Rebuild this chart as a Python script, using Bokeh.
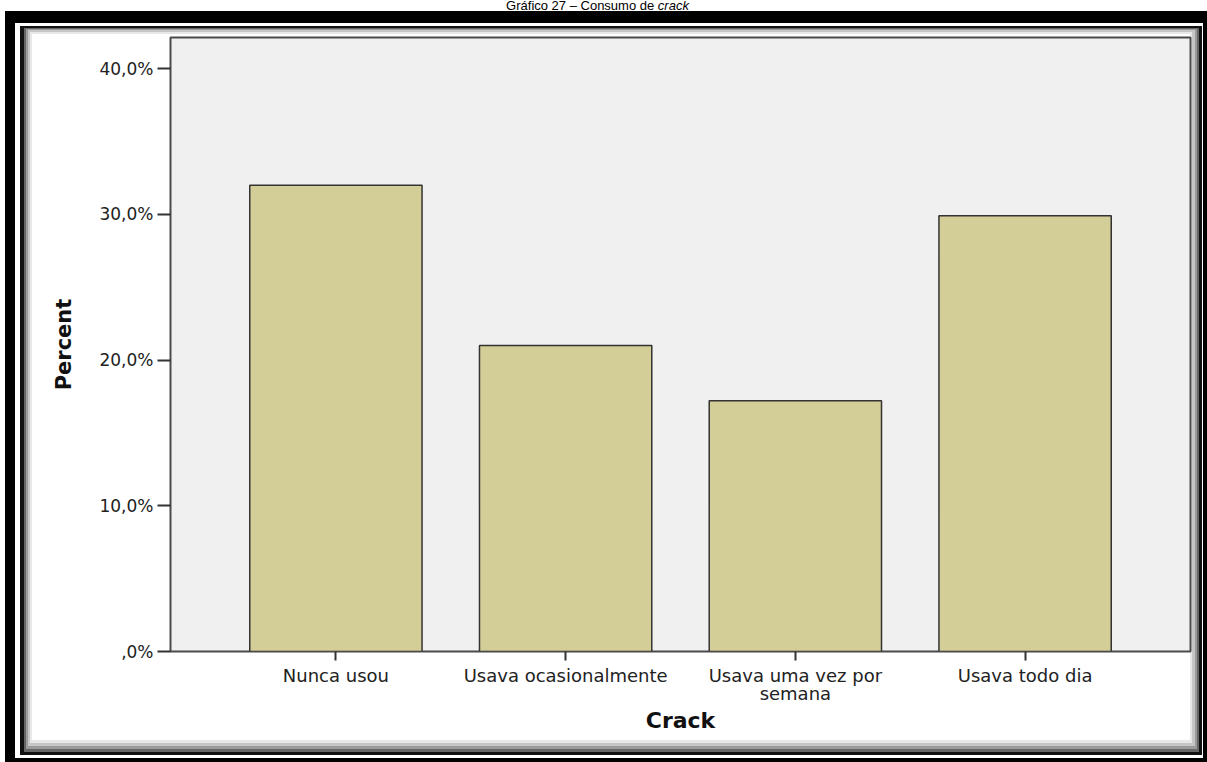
from bokeh.plotting import figure
from bokeh.layouts import column
from bokeh.models import FactorRange, Range1d, FixedTicker, Div
from bokeh.embed import file_html
from bokeh.resources import INLINE

# ---- data ----
categories = ["Nunca usou", "Usava ocasionalmente", "Usava uma vez por\nsemana", "Usava todo dia"]
percent = [32.0, 21.0, 17.2, 29.9]
y_ticks = [0, 10, 20, 30, 40]
y_tick_labels = [",0%", "10,0%", "20,0%", "30,0%", "40,0%"]
title_main = "Gráfico 27 – Consumo de"
title_italic = "crack"
x_label = "Crack"
y_label = "Percent"

W, H = 1207, 762
TOP = 11                               # height of the title strip above the frame box
FL, FR, FT, FB = 170, 1190, 37, 651   # frame edges in page pixels


def rect(l, t, r, b, color):
    return f"linear-gradient({color},{color}) {l}px {t}px / {r - l}px {b - t}px no-repeat"


layers = [
    rect(32, 34, 1190, 740, "#ffffff"),
    rect(30, 32, 1192, 743, "#e8e8e8"),
    rect(28, 30, 1195, 746, "#c6c6c6"),
    rect(26, 29, 1197, 749, "#9a9a9a"),
    rect(24, 28, 1199, 752, "#666666"),
    rect(20, 26, 1202, 755, "#111111"),
    rect(15, 23, 1203, 758, "#ffffff"),
    rect(5, 11, 1207, 762, "#000000"),
    "#ffffff",
]

title_div = Div(
    text=f"{title_main} <i>{title_italic}</i>",
    width=W, height=TOP, margin=0,
    styles={"font-family": "'Liberation Sans', Arial, sans-serif", "font-size": "13px",
            "line-height": "11px", "color": "#000000", "text-align": "center",
            "width": "1195px", "overflow": "visible", "white-space": "nowrap"},
)

p = figure(
    x_range=FactorRange(factors=categories, range_padding=0.22, range_padding_units="absolute"),
    y_range=Range1d(0, 42.13),
    width=W, height=H - TOP,
    output_backend="svg", toolbar_location=None,
    min_border_left=FL, min_border_right=W - FR,
    min_border_top=FT - TOP, min_border_bottom=H - FB,
    background_fill_color="#f0f0f0",
    border_fill_color=None,
    outline_line_color="#4a4a4a", outline_line_width=2,
    margin=0,
)

p.vbar(x=categories, top=percent, width=0.75,
       fill_color="#d3cd97", line_color="#333333", line_width=1.5)

p.xgrid.visible = False
p.ygrid.visible = False

# y axis
ya = p.yaxis[0]
ya.ticker = FixedTicker(ticks=y_ticks)
ya.major_label_overrides = dict(zip(y_ticks, y_tick_labels))
ya.major_tick_out = 13
ya.major_tick_in = 0
ya.minor_tick_out = 0
ya.minor_tick_in = 0
ya.axis_line_color = "#4a4a4a"
ya.major_tick_line_color = "#333333"
ya.major_tick_line_width = 2
ya.major_label_text_font = "DejaVu Sans"
ya.major_label_text_font_size = "17px"
ya.major_label_text_color = "#222222"
ya.major_label_standoff = 4
ya.axis_label = y_label
ya.axis_label_text_font = "DejaVu Sans"
ya.axis_label_text_font_style = "bold"
ya.axis_label_text_font_size = "21px"
ya.axis_label_text_color = "#111111"
ya.axis_label_standoff = 20

# x axis
xa = p.xaxis[0]
xa.major_tick_out = 9
xa.major_tick_in = 0
xa.axis_line_color = "#4a4a4a"
xa.major_tick_line_color = "#333333"
xa.major_tick_line_width = 2
xa.major_label_text_font = "DejaVu Sans"
xa.major_label_text_font_size = "18px"
xa.major_label_text_line_height = 0.9
xa.major_label_text_color = "#222222"
xa.major_label_standoff = 4
xa.axis_label = x_label
xa.axis_label_text_font = "DejaVu Sans"
xa.axis_label_text_font_style = "bold"
xa.axis_label_text_font_size = "22px"
xa.axis_label_text_color = "#111111"
xa.axis_label_standoff = 1

page = column(title_div, p, spacing=0, margin=0,
              styles={"background": ", ".join(layers)})

open("out.html", "w").write(file_html(page, INLINE))
